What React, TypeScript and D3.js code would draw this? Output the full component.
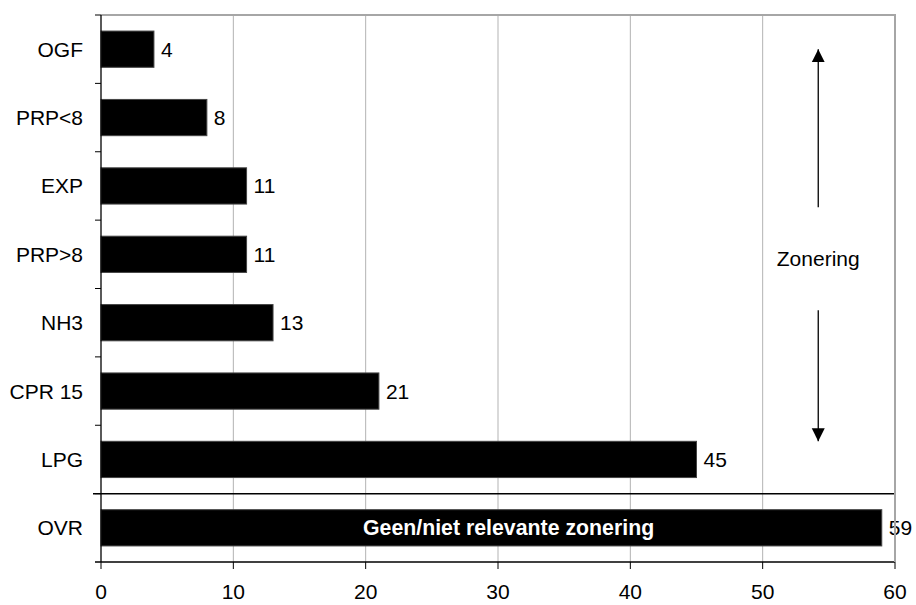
import { useMemo } from "react";
import * as d3 from "d3";

const categories = ["OGF", "PRP<8", "EXP", "PRP>8", "NH3", "CPR 15", "LPG", "OVR"];
const values = [4, 8, 11, 11, 13, 21, 45, 59];
const xTicks = [0, 10, 20, 30, 40, 50, 60];
const zoneLabel = "Zonering";
const ovrLabel = "Geen/niet relevante zonering";

const WIDTH = 916;
const HEIGHT = 605;
const MARGIN = { top: 15, right: 21, bottom: 43, left: 101 };
const FONT = "'Liberation Sans', Arial, sans-serif";
const FS = 21;

export default function App() {
  const x = useMemo(
    () =>
      d3
        .scaleLinear()
        .domain([0, 60])
        .range([MARGIN.left, WIDTH - MARGIN.right]),
    []
  );
  const y = useMemo(
    () =>
      d3
        .scaleBand<string>()
        .domain(categories)
        .range([MARGIN.top, HEIGHT - MARGIN.bottom])
        .paddingInner(0.47)
        .paddingOuter(0.235),
    []
  );

  const top = MARGIN.top;
  const bottom = HEIGHT - MARGIN.bottom;
  const left = MARGIN.left;
  const right = WIDTH - MARGIN.right;
  const step = y.step();
  const bandStart = (c: string) => y(c)! - y.paddingOuter() * step;
  // boundary between the zoned categories and OVR
  const sepY = bandStart("OVR");

  const arrowX = x(54.2);
  const upTip = y("OGF")! + y.bandwidth() / 2;
  const downTip = y("LPG")!;
  const midY = (upTip + downTip) / 2;

  return (
    <div style={{ position: "absolute", left: 0, top: 0 }}>
      <svg width={WIDTH} height={HEIGHT} style={{ display: "block", fontFamily: FONT }}>
        <defs>
          <marker
            id="ah"
            viewBox="0 0 10 10"
            refX="10"
            refY="5"
            markerUnits="userSpaceOnUse"
            markerWidth="13"
            markerHeight="14"
            orient="auto"
          >
            <path d="M0,0 L10,5 L0,10 z" fill="#000" />
          </marker>
        </defs>
        <rect x={0} y={0} width={WIDTH} height={HEIGHT} fill="#fff" />

        {/* gridlines */}
        {xTicks.slice(1).map((t) => (
          <line key={t} x1={x(t)} x2={x(t)} y1={top} y2={bottom} stroke="#b3b3b3" strokeWidth={1} />
        ))}
        {/* top border */}
        <line x1={left} x2={right} y1={top} y2={top} stroke="#a6a6a6" strokeWidth={2} />

        {/* bars */}
        {categories.map((c, i) => (
          <g key={c}>
            <rect
              x={x(0)}
              y={y(c)}
              width={x(values[i]) - x(0)}
              height={y.bandwidth()}
              fill="#000"
              stroke="#444"
              strokeWidth={1}
            />
            <text
              x={x(values[i]) + 7}
              y={y(c)! + y.bandwidth() / 2}
              dy="0.36em"
              fontSize={FS}
              fill="#000"
            >
              {values[i]}
            </text>
            <text
              x={left - 18}
              y={y(c)! + y.bandwidth() / 2}
              dy="0.36em"
              textAnchor="end"
              fontSize={FS}
              fill="#000"
            >
              {c}
            </text>
          </g>
        ))}

        <text
          x={x(30.8)}
          y={y("OVR")! + y.bandwidth() / 2}
          dy="0.36em"
          textAnchor="middle"
          fontSize={21.3}
          fontWeight="bold"
          fill="#fff"
        >
          {ovrLabel}
        </text>

        {/* left axis + ticks */}
        <line x1={left} x2={left} y1={top} y2={bottom} stroke="#000" strokeWidth={1.3} />
        {categories.map((c) => (
          <line key={c} x1={left - 6} x2={left} y1={bandStart(c)} y2={bandStart(c)} stroke="#000" />
        ))}
        {/* separator */}
        <line x1={left - 8} x2={right} y1={sepY} y2={sepY} stroke="#000" strokeWidth={1.5} />

        {/* bottom axis */}
        <line x1={left - 6} x2={right} y1={bottom} y2={bottom} stroke="#000" strokeWidth={1.3} />
        {/* right border */}
        <line x1={right} x2={right} y1={top - 1} y2={bottom} stroke="#a6a6a6" strokeWidth={2} />
        {xTicks.map((t) => (
          <g key={t}>
            <line x1={x(t)} x2={x(t)} y1={bottom} y2={bottom + 7} stroke="#000" />
            <text x={x(t)} y={bottom + 37} textAnchor="middle" fontSize={FS} fill="#000">
              {t}
            </text>
          </g>
        ))}

        {/* zonering annotation */}
        <line x1={arrowX} x2={arrowX} y1={midY - 38} y2={upTip} stroke="#000" strokeWidth={1.3} markerEnd="url(#ah)" />
        <line x1={arrowX} x2={arrowX} y1={midY + 65} y2={downTip} stroke="#000" strokeWidth={1.3} markerEnd="url(#ah)" />
        <text x={arrowX} y={midY + 13} dy="0.36em" textAnchor="middle" fontSize={FS} fill="#000">
          {zoneLabel}
        </text>
      </svg>
    </div>
  );
}
